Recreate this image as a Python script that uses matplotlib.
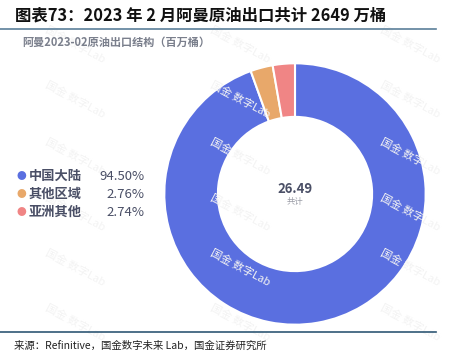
import matplotlib
matplotlib.use("Agg")
import matplotlib.pyplot as plt
from matplotlib.lines import Line2D

plt.rcParams['font.family'] = ['Noto Sans CJK SC', 'DejaVu Sans']

# data
labels = ['中国大陆', '其他区域', '亚洲其他']
shares = [94.50, 2.76, 2.74]
colors = ['#5a6fe0', '#e8a86a', '#f08585']
total = 26.49

title = '图表73：2023 年 2 月阿曼原油出口共计 2649 万桶'
subtitle = '阿曼2023-02原油出口结构（百万桶）'
source = '来源：Refinitive，国金数字未来 Lab，国金证券研究所'

W, H = 451, 364
fig = plt.figure(figsize=(W / 100, H / 100), dpi=100)

def fx(px):
    return px / W

def fy(py):
    return 1 - py / H

# faint watermarks
for y in [45, 100, 157, 213, 268, 323]:
    for x in [75, 240, 410]:
        fig.text(fx(x), fy(y), '国金 数字Lab', fontsize=8, color='#f3f3f3',
                 rotation=-28, ha='center', va='center', zorder=0)

# title + rules
fig.text(fx(15), fy(15), title, fontsize=11.8, fontweight='bold',
         style='italic', color='#111111', va='center', ha='left')
fig.add_artist(Line2D([0, fx(436)], [fy(29), fy(29)], color='#5b7f9a', lw=1.2))
fig.text(fx(22), fy(42), subtitle, fontsize=8, fontweight='bold',
         color='#7a7f8c', va='center', ha='left')
fig.add_artist(Line2D([0, fx(436)], [fy(332), fy(332)], color='#2f5774', lw=1.2))
fig.text(fx(14), fy(346), source, fontsize=7.5, color='#222222',
         va='center', ha='left')

# donut
ax = fig.add_axes([fx(163), fy(326), fx(264), 264 / H])
ax.pie(shares, colors=colors, startangle=90, counterclock=False,
       radius=1, wedgeprops=dict(width=0.41, edgecolor='white', linewidth=1.5))
ax.set_xlim(-1.01, 1.01)
ax.set_ylim(-1.01, 1.01)
ax.set_aspect('equal')
ax.axis('off')
ax.text(0, 0.04, f'{total:.2f}', ha='center', va='center', fontsize=9.5,
        fontweight='bold', color='#4a4f66')
ax.text(0, -0.06, '共计', ha='center', va='center', fontsize=6, color='#9a9ca6')

# legend
for i, (lab, val, c) in enumerate(zip(labels, shares, colors)):
    y = [176, 194, 212][i]
    fig.text(fx(21), fy(y), '●', fontsize=7, color=c, ha='center', va='center')
    fig.text(fx(29), fy(y), lab, fontsize=9.5, fontweight='bold',
             color='#4a4f66', ha='left', va='center')
    fig.text(fx(144), fy(y), f'{val:.2f}%', fontsize=9.5,
             color='#4a4f66', ha='right', va='center')

fig.savefig('out.png', dpi=100)
